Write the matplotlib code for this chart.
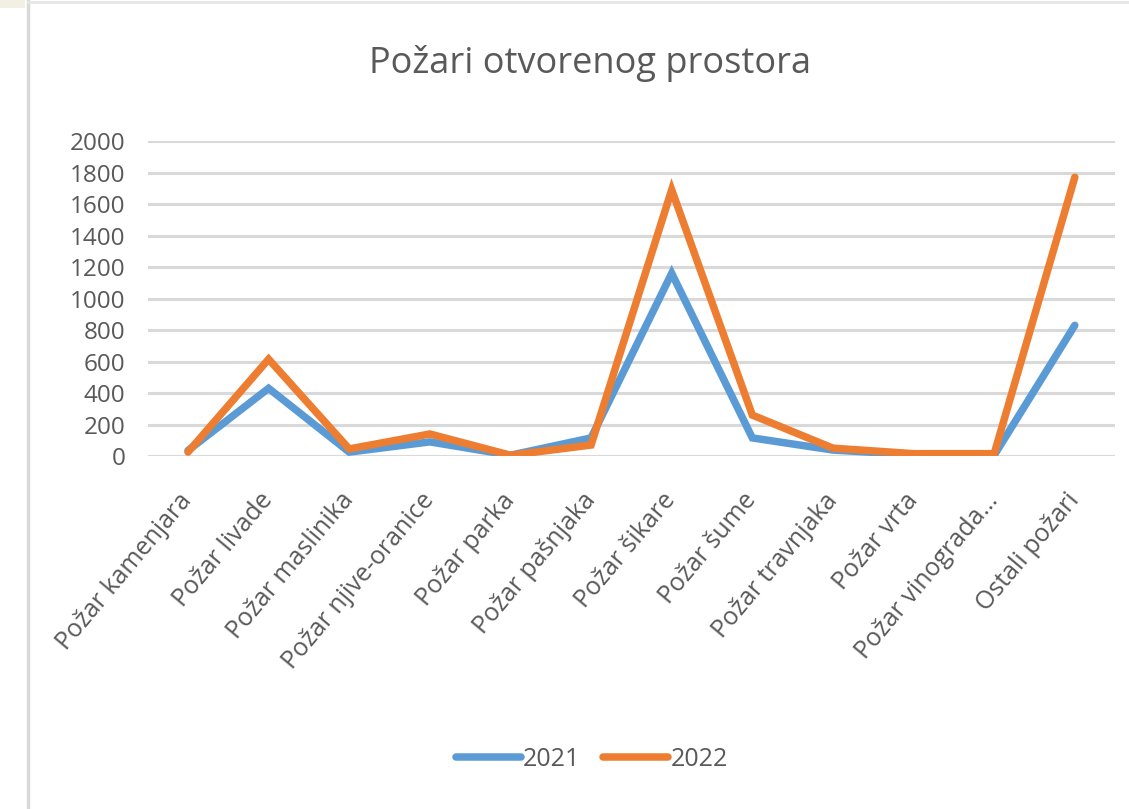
import matplotlib.pyplot as plt
from matplotlib.lines import Line2D
from matplotlib.patches import Rectangle

categories = ['Požar kamenjara', 'Požar livade', 'Požar maslinika', 'Požar njive-oranice',
              'Požar parka', 'Požar pašnjaka', 'Požar šikare', 'Požar šume',
              'Požar travnjaka', 'Požar vrta', 'Požar vinograda…', 'Ostali požari']
y2021 = [35, 430, 25, 90, 5, 115, 1160, 115, 38, 8, 5, 830]
y2022 = [25, 615, 45, 140, 5, 70, 1690, 260, 50, 15, 15, 1770]
years = ['2021', '2022']

plt.rcParams['font.family'] = ['Open Sans', 'DejaVu Sans']
grey = '#595959'

fig = plt.figure(figsize=(11.29, 8.09), dpi=100)
ax = fig.add_axes([0.1308, 0.4363, 0.8569, 0.3894])

pos = list(range(len(categories)))
ax.plot(pos, y2021, color='#5B9BD5', lw=5.4, label=years[0], solid_joinstyle='miter', solid_capstyle='round')
ax.plot(pos, y2022, color='#ED7D31', lw=5.4, label=years[1], solid_joinstyle='miter', solid_capstyle='round')

ax.set_xlim(-0.5, len(categories) - 0.5)
ax.set_ylim(0, 2000)
ax.set_yticks(range(0, 2001, 200))
ax.tick_params(axis='y', length=0, pad=16, labelsize=17.5, labelcolor=grey)
ax.tick_params(axis='x', length=0, pad=29, labelsize=18, labelcolor=grey)
ax.set_xticks(pos)
ax.set_xticklabels(categories, rotation=50, ha='right', va='center', rotation_mode='anchor')
ax.grid(axis='y', color='#D9D9D9', lw=2.2)
ax.set_axisbelow(True)
for s in ax.spines.values():
    s.set_visible(False)

fig.text(0.523, 0.922, 'Požari otvorenog prostora', ha='center', va='center', fontsize=26, color=grey)

ax.legend(loc='center', bbox_to_anchor=(0.459, -0.962), ncol=2, frameon=False,
          fontsize=18, labelcolor=grey, handlelength=2.6, handletextpad=0.1, columnspacing=0.9)

# screenshot borders
fig.add_artist(Rectangle((0, 1 - 8 / 809), 25 / 1129, 8 / 809, transform=fig.transFigure, color='#F3EFE3', lw=0))
fig.add_artist(Line2D([27.5 / 1129, 27.5 / 1129], [0, 1], transform=fig.transFigure, color='#D9D9D9', lw=2.5))
fig.add_artist(Line2D([27.5 / 1129, 1], [1 - 1.5 / 809, 1 - 1.5 / 809], transform=fig.transFigure, color='#E6E6E6', lw=2))

fig.savefig('out.png', dpi=100)
